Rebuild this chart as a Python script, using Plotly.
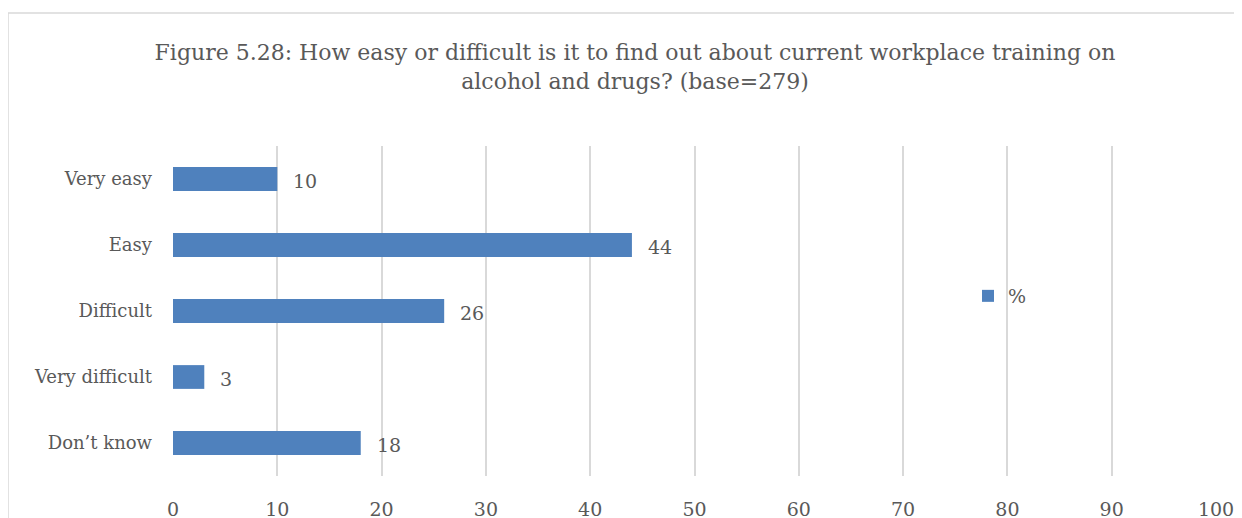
import plotly.graph_objects as go

categories = ["Very easy", "Easy", "Difficult", "Very difficult", "Don’t know"]
values = [10, 44, 26, 3, 18]
series_name = "%"
x_ticks = [0, 10, 20, 30, 40, 50, 60, 70, 80, 90, 100]

font_family = "DejaVu Serif"
grey = "#595959"
bar_color = "#4F81BD"

fig = go.Figure()
fig.add_trace(go.Bar(
    x=values, y=categories, orientation="h", name=series_name,
    marker=dict(color=bar_color, line=dict(width=0)), width=0.36,
    showlegend=True,
))

for c, v in zip(categories, values):
    fig.add_annotation(x=v, y=c, text=str(v), showarrow=False, xanchor="left",
                       xshift=14, yshift=-2, font=dict(size=19, color=grey, family=font_family))

# page body adds an 8px offset, so positions below are in page pixels minus 8
OFF = 8
W, H = 1242, 518
L, T = 173 - OFF, 146 - OFF
R = W - (1216 - OFF)
B = H - (476 - OFF)
pw = W - L - R
ph = H - T - B


def px_x(p):
    return (p - OFF - L) / pw


def px_y(p):
    return (H - B - (p - OFF)) / ph


# chart border
fig.add_shape(type="rect", xref="paper", yref="paper",
              x0=px_x(8), x1=px_x(1270),
              y0=px_y(13), y1=px_y(580),
              line=dict(color="#D9D9D9", width=1.5), layer="below")

fig.update_layout(
    width=W, height=H,
    margin=dict(l=L, r=R, t=T, b=B),
    paper_bgcolor="white", plot_bgcolor="white",
    font=dict(family=font_family, color=grey, size=18),
    title=dict(
        text="Figure 5.28: How easy or difficult is it to find out about current workplace training on<br>alcohol and drugs? (base=279)",
        x=(635 - OFF) / W, xanchor="center", y=1 - (60 - OFF) / H, yanchor="top",
        font=dict(size=22, color=grey, family=font_family),
    ),
    xaxis=dict(range=[0, 100], tickvals=x_ticks, showgrid=True, gridcolor="#D9D9D9",
               gridwidth=1.5, zeroline=False, showline=False, ticklabelstandoff=20,
               automargin=False, tickfont=dict(size=19, color=grey)),
    yaxis=dict(categoryorder="array", categoryarray=categories[::-1], showgrid=False,
               showline=False, ticklabelstandoff=20, automargin=False,
               tickfont=dict(size=18, color=grey)),
    legend=dict(x=px_x(968), y=px_y(296), xanchor="left", yanchor="middle",
                bgcolor="rgba(0,0,0,0)", font=dict(size=19, color=grey), itemwidth=30),
    bargap=0.64,
)

fig.write_html("out.html")
